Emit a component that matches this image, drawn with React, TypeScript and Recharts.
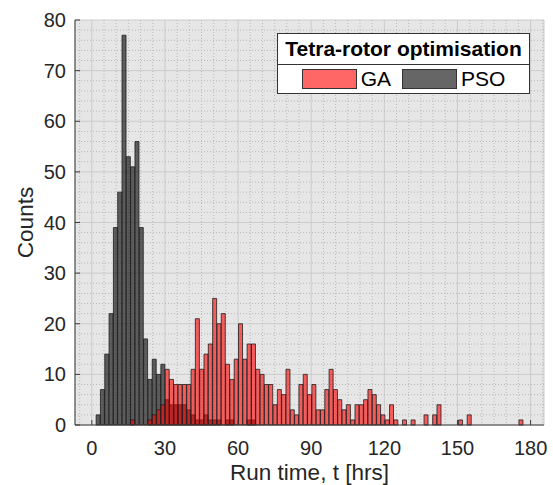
import { ComposedChart, Bar, XAxis, YAxis, CartesianGrid } from 'recharts';

// histogram bins: bin k covers [k * binWidth, (k + 1) * binWidth] hours
const binWidth = 1.77;

// PSO counts per bin (k = 0..37, all later bins are empty)
const psoCounts = [
  0, 2, 7, 14, 22, 39, 46, 77, 53, 51,
  56, 39, 17, 9, 13, 10, 12, 5, 4, 4,
  4, 4, 3, 2, 1, 1, 2, 1, 1, 1,
  0, 1, 1, 0, 0, 0, 1, 1,
];

// GA counts per bin (k = 0..100)
const gaCounts = [
  0, 0, 0, 0, 0, 0, 0, 0, 0, 1,
  0, 0, 0, 1, 2, 3, 4, 11, 9, 8,
  8, 8, 8, 11, 21, 11, 14, 16, 25, 20,
  22, 12, 9, 13, 20, 13, 16, 16, 11, 10,
  8, 8, 4, 7, 6, 11, 3, 2, 8, 10,
  6, 8, 3, 3, 7, 11, 7, 5, 3, 4,
  1, 4, 4, 5, 7, 6, 4, 2, 1, 4,
  1, 0, 1, 0, 1, 0, 0, 2, 0, 2,
  4, 0, 0, 0, 0, 1, 0, 2, 0, 0,
  0, 0, 0, 0, 0, 0, 0, 0, 0, 1,
  0,
];

const xTicks = [0, 30, 60, 90, 120, 150, 180];
const yTicks = [0, 10, 20, 30, 40, 50, 60, 70, 80];
const xMinorTicks = [-5, 5, 10, 15, 20, 25, 35, 40, 45, 50, 55, 65, 70, 75, 80, 85, 95, 100, 105, 110, 115, 125, 130, 135, 140, 145, 155, 160, 165, 170, 175, 185];
const yMinorTicks = [2, 4, 6, 8, 12, 14, 16, 18, 22, 24, 26, 28, 32, 34, 36, 38, 42, 44, 46, 48, 52, 54, 56, 58, 62, 64, 66, 68, 72, 74, 76, 78];

const data = gaCounts.map((ga, k) => ({
  t: (k + 0.5) * binWidth,
  ga,
  pso: psoCounts[k] ?? 0,
}));

const FONT = '"Liberation Sans", Arial, Helvetica, sans-serif';
const TEXT = '#262626';
const AXIS = '#3c3c3c';

const Swatch = ({ color }: { color: string }) => (
  <span
    style={{
      display: 'inline-block',
      width: 53,
      height: 18,
      background: color,
      border: '1px solid #333',
    }}
  />
);

const App = () => {
  return (
    <div style={{ position: 'relative', width: 553, height: 485, fontFamily: FONT }}>
      <style>{'body { margin: 0; }'}</style>
      <ComposedChart
        width={553}
        height={485}
        data={data}
        margin={{ top: 20, right: 9, bottom: 0, left: 0 }}
        barCategoryGap={0}
        barGap={0}
      >
        <CartesianGrid stroke="#cbcbcb" fill="#e6e6e6" fillOpacity={1} />
        <CartesianGrid
          stroke="#b8b8b8"
          strokeDasharray="1 2"
          horizontalValues={yMinorTicks}
          verticalValues={xMinorTicks}
        />
        <XAxis
          dataKey="t"
          type="number"
          domain={[-6.9, 185.5]}
          ticks={xTicks}
          interval={0}
          height={60}
          tickSize={-5}
          tickMargin={21}
          stroke={AXIS}
          tick={{ fill: TEXT, fontSize: 20, fontFamily: FONT }}
          label={{
            value: 'Run time, t [hrs]',
            position: 'insideBottom',
            offset: 5,
            style: { fill: TEXT, fontSize: 22.5, fontFamily: FONT },
          }}
        />
        <XAxis
          xAxisId="top"
          dataKey="t"
          type="number"
          orientation="top"
          domain={[-6.9, 185.5]}
          ticks={xTicks}
          interval={0}
          height={0}
          tickSize={-5}
          tick={false}
          stroke={AXIS}
        />
        <YAxis
          domain={[0, 80]}
          ticks={yTicks}
          interval={0}
          width={75}
          tickSize={-5}
          tickMargin={14}
          stroke={AXIS}
          tick={{ fill: TEXT, fontSize: 20, fontFamily: FONT }}
          label={{
            value: 'Counts',
            angle: -90,
            position: 'insideLeft',
            offset: 25,
            style: { textAnchor: 'middle', fill: TEXT, fontSize: 22.5, fontFamily: FONT },
          }}
        />
        <YAxis
          yAxisId="right"
          orientation="right"
          domain={[0, 80]}
          ticks={yTicks}
          interval={0}
          width={0}
          tickSize={-5}
          tick={false}
          stroke={AXIS}
        />
        <Bar
          dataKey="pso"
          fill="#000000"
          fillOpacity={0.6}
          stroke="#1e1e1e"
          strokeWidth={0.8}
          isAnimationActive={false}
        />
        <Bar
          dataKey="ga"
          xAxisId="top"
          fill="#ff0000"
          fillOpacity={0.6}
          stroke="#1e1e1e"
          strokeWidth={0.8}
          isAnimationActive={false}
        />
      </ComposedChart>
      <div
        style={{
          position: 'absolute',
          left: 277,
          top: 33,
          width: 251,
          height: 59,
          background: '#fff',
          border: '1px solid #333',
          color: '#000',
        }}
      >
        <div
          style={{
            height: 30,
            borderBottom: '1px solid #333',
            fontWeight: 'bold',
            fontSize: 21,
            lineHeight: '30px',
            textAlign: 'center',
          }}
        >
          Tetra-rotor optimisation
        </div>
        <div
          style={{
            height: 28,
            display: 'flex',
            alignItems: 'center',
            justifyContent: 'center',
            fontSize: 21,
          }}
        >
          <Swatch color="#ff6666" />
          <span style={{ marginLeft: 4, marginRight: 11 }}>GA</span>
          <Swatch color="#666666" />
          <span style={{ marginLeft: 4 }}>PSO</span>
        </div>
      </div>
    </div>
  );
};

export default App;
